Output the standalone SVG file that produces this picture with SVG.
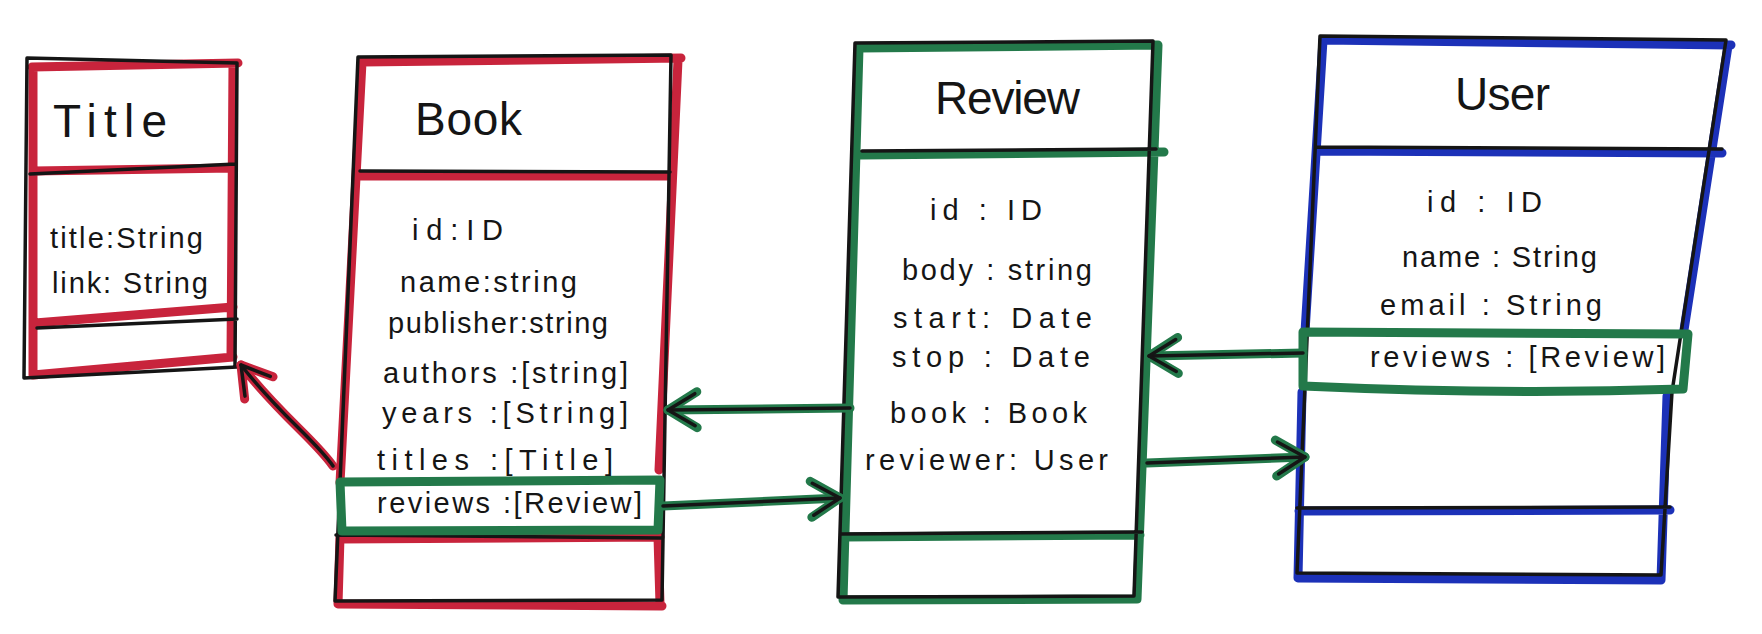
<svg xmlns="http://www.w3.org/2000/svg" width="1762" height="634" viewBox="0 0 1762 634">
<style>
 .red{fill:none;stroke:#C8243C;stroke-width:9;stroke-linecap:round;stroke-linejoin:round}
 .grn{fill:none;stroke:#23794A;stroke-width:9;stroke-linecap:round;stroke-linejoin:round}
 .blu{fill:none;stroke:#1C31B8;stroke-width:9;stroke-linecap:round;stroke-linejoin:round}
 .ink{fill:none;stroke:#151515;stroke-width:3.5;stroke-linecap:round;stroke-linejoin:round}
 .hd{font-family:"Liberation Sans",Arial,sans-serif;font-size:46px;fill:#151515}
 .at{font-family:"Liberation Sans",Arial,sans-serif;font-size:29px;fill:#151515}
</style>
<defs>
 <marker id="arR" markerUnits="userSpaceOnUse" markerWidth="60" markerHeight="60" refX="40" refY="30" orient="auto" overflow="visible"><path class="red" d="M11,12 L40,30 L11,48"/></marker>
 <marker id="arG" markerUnits="userSpaceOnUse" markerWidth="60" markerHeight="60" refX="40" refY="30" orient="auto" overflow="visible"><path class="grn" d="M11,12 L40,30 L11,48"/></marker>
 <marker id="arK" markerUnits="userSpaceOnUse" markerWidth="60" markerHeight="60" refX="40" refY="30" orient="auto" overflow="visible"><path class="ink" d="M13,14 L40,30 L13,46"/></marker>
</defs>
<rect width="1762" height="634" fill="#ffffff"/>

<g id="title">
 <path class="red" d="M32,67 L238,63 M233,64 L231,357 M33,68 L33,375 M33,375 L233,357 M33,171 L233,168 M35,323 L233,307"/>
 <path class="ink" d="M27,58 L237,63 L235,367 M27,58 L24,378 L237,367 M30,174 L236,164 M37,328 L237,319"/>
 <text class="hd" x="53" y="137" textLength="114" lengthAdjust="spacing">Title</text>
 <text class="at" x="50" y="248" textLength="153" lengthAdjust="spacing">title:String</text>
 <text class="at" x="52" y="293" textLength="156" lengthAdjust="spacing">link: String</text>
</g>

<g id="book">
 <path class="red" d="M362,62 L681,58 M678,60 L659,470 M362,62 L340,483 M340,537 L338,604 L662,606 M658,537 L660,604 M360,176 L672,176 M340,539 L660,537"/>
 <path class="ink" d="M358,57 L671,55 L662,600 L335,601 Z M360,171 L670,172 M336,535 L662,538"/>
 <path class="grn" d="M340,482 L660,480 L658,530 L342,531 Z"/>
 <text class="hd" x="415" y="135" font-size="50" textLength="107" lengthAdjust="spacing">Book</text>
 <text class="at" x="412" y="240" textLength="91" lengthAdjust="spacing">id:ID</text>
 <text class="at" x="400" y="292" textLength="177" lengthAdjust="spacing">name:string</text>
 <text class="at" x="388" y="333" textLength="220" lengthAdjust="spacing">publisher:string</text>
 <text class="at" x="383" y="383" textLength="245" lengthAdjust="spacing">authors :[string]</text>
 <text class="at" x="382" y="423" textLength="246" lengthAdjust="spacing">years :[String]</text>
 <text class="at" x="377" y="470" textLength="236" lengthAdjust="spacing">titles :[Title]</text>
 <text class="at" x="377" y="513" textLength="265" lengthAdjust="spacing">reviews :[Review]</text>
</g>

<g id="review">
 <path class="grn" d="M859,48 L1158,45 L1137,599 L843,600 Z M861,155 L1164,152 M844,537 L1140,535"/>
 <path class="ink" d="M855,43 L1153,41 L1134,596 L838,597 Z M862,151 L1156,149 M841,534 L1142,532"/>
 <text class="hd" x="935" y="114" textLength="145" lengthAdjust="spacing">Review</text>
 <text class="at" x="930" y="220" textLength="112" lengthAdjust="spacing">id : ID</text>
 <text class="at" x="902" y="280" textLength="190" lengthAdjust="spacing">body : string</text>
 <text class="at" x="893" y="328" textLength="199" lengthAdjust="spacing">start: Date</text>
 <text class="at" x="892" y="367" textLength="198" lengthAdjust="spacing">stop : Date</text>
 <text class="at" x="890" y="423" textLength="197" lengthAdjust="spacing">book : Book</text>
 <text class="at" x="865" y="470" textLength="243" lengthAdjust="spacing">reviewer: User</text>
</g>

<g id="user">
 <path class="blu" d="M1323,40 L1731,45 M1728,46 L1684,330 M1323,40 L1305,332 M1302,392 L1298,578 L1661,580 M1667,396 L1661,580 M1318,151 L1722,153 M1299,511 L1670,510"/>
 <path class="ink" d="M1320,36 L1726,40 L1672,392 L1661,575 L1297,573 Z M1316,147 L1722,149 M1297,508 L1670,507"/>
 <path class="grn" d="M1303,332 L1688,334 L1683,389 Q1500,395 1303,386 Z"/>
 <text class="hd" x="1455" y="110" textLength="95" lengthAdjust="spacing">User</text>
 <text class="at" x="1427" y="212" textLength="115" lengthAdjust="spacing">id : ID</text>
 <text class="at" x="1402" y="267" textLength="195" lengthAdjust="spacing">name : String</text>
 <text class="at" x="1380" y="315" textLength="222" lengthAdjust="spacing">email : String</text>
 <text class="at" x="1370" y="367" textLength="295" lengthAdjust="spacing">reviews : [Review]</text>
</g>

<g id="connectors">
 <path class="red" d="M333,466 C315,440 280,415 241,365" marker-end="url(#arR)"/>
 <path class="ink" d="M333,466 C315,440 280,415 241,365" marker-end="url(#arK)"/>
 <path class="grn" d="M850,408 L668,410" marker-end="url(#arG)"/>
 <path class="ink" d="M850,408 L668,410" marker-end="url(#arK)"/>
 <path class="grn" d="M663,506 L840,498" marker-end="url(#arG)"/>
 <path class="ink" d="M663,506 L840,498" marker-end="url(#arK)"/>
 <path class="grn" d="M1303,353 L1149,356" marker-end="url(#arG)"/>
 <path class="ink" d="M1303,353 L1149,356" marker-end="url(#arK)"/>
 <path class="grn" d="M1147,463 L1305,457" marker-end="url(#arG)"/>
 <path class="ink" d="M1147,463 L1305,457" marker-end="url(#arK)"/>
</g>
</svg>
